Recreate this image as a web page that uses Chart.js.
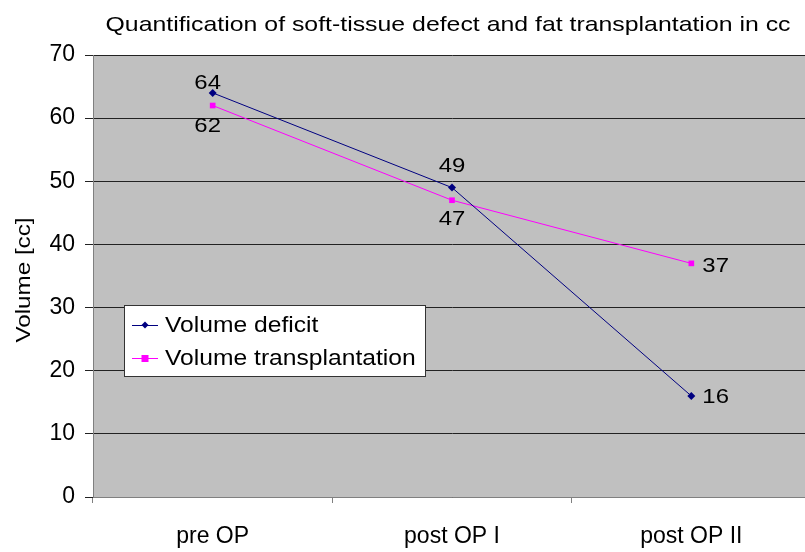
<!DOCTYPE html>
<html>
<head>
<meta charset="utf-8">
<script src="https://cdn.jsdelivr.net/npm/chart.js@4.4.0/dist/chart.umd.min.js"></script>
<style>
html,body{margin:0;padding:0;background:#fff;overflow:hidden;}
#wrap{width:815px;height:552px;}
</style>
</head>
<body>
<div id="wrap"><canvas id="c" width="815" height="552"></canvas></div>
<script>
const categories = ['pre OP', 'post OP I', 'post OP II'];
const volumeDeficit = [64, 49, 16];
const volumeTransplantation = [62, 47, 37];
const yTicks = [0, 10, 20, 30, 40, 50, 60, 70];
const chartTitle = 'Quantification of soft-tissue defect and fat transplantation in cc';
const yTitle = 'Volume [cc]';

const FONT = 'Arial, "Liberation Sans", sans-serif';

// label placement styles (per point): [dx, dy, align]
const labelStyle = [
  [[-5,-10,'center'],[0,-21,'center'],[11,1,'left']],
  [[-5,21,'center'],[0,19,'center'],[11,3,'left']]
];

// draw text with horizontal stretch sx
function drawText(ctx, text, x, y, font, sx, align, baseline) {
  ctx.save();
  ctx.font = font;
  ctx.textBaseline = baseline || 'middle';
  const w = ctx.measureText(text).width * sx;
  let left = x;
  if (align === 'center') left = x - w / 2;
  else if (align === 'right') left = x - w;
  ctx.translate(left, y);
  ctx.scale(sx, 1);
  ctx.textAlign = 'left';
  ctx.fillText(text, 0, 0);
  ctx.restore();
}

const bgPlugin = {
  id: 'bg',
  beforeDraw(chart) {
    const {ctx, chartArea: a} = chart;
    ctx.save();
    ctx.fillStyle = '#C0C0C0';
    ctx.fillRect(a.left, a.top, a.right - a.left, a.bottom - a.top);
    ctx.restore();
  }
};

const titlePlugin = {
  id: 'customTitle',
  afterDraw(chart) {
    const ctx = chart.ctx;
    ctx.save();
    ctx.fillStyle = '#000';
    ctx.font = '21px ' + FONT;
    const sx = 685 / ctx.measureText(chartTitle).width;
    drawText(ctx, chartTitle, 448, 31, '21px ' + FONT, sx, 'center', 'alphabetic');
    // y axis title
    ctx.font = '21px ' + FONT;
    const ysx = 125 / ctx.measureText(yTitle).width;
    ctx.translate(30, 280);
    ctx.rotate(-Math.PI / 2);
    drawText(ctx, yTitle, 0, 0, '21px ' + FONT, ysx, 'center', 'alphabetic');
    ctx.restore();
  }
};

const labelPlugin = {
  id: 'pointLabels',
  afterDatasetsDraw(chart) {
    const ctx = chart.ctx;
    ctx.save();
    ctx.fillStyle = '#000';
    chart.data.datasets.forEach((ds, di) => {
      const meta = chart.getDatasetMeta(di);
      meta.data.forEach((pt, i) => {
        const s = labelStyle[di][i];
        drawText(ctx, String(ds.data[i]), pt.x + s[0], pt.y + s[1], '21px ' + FONT, 1.14, s[2], 'middle');
      });
    });
    ctx.restore();
  }
};

const legendPlugin = {
  id: 'boxLegend',
  afterDraw(chart) {
    const ctx = chart.ctx;
    const x = 124.5, y = 305.5, w = 301, h = 71;
    ctx.save();
    ctx.fillStyle = '#fff';
    ctx.fillRect(x, y, w, h);
    ctx.strokeStyle = '#333';
    ctx.lineWidth = 1;
    ctx.strokeRect(x, y, w, h);
    chart.data.datasets.forEach((ds, di) => {
      const cy = 325 + di * 33;
      ctx.strokeStyle = ds.borderColor;
      ctx.lineWidth = 1;
      ctx.beginPath();
      ctx.moveTo(132, cy + 0.5);
      ctx.lineTo(158, cy + 0.5);
      ctx.stroke();
      ctx.fillStyle = ds.pointBackgroundColor;
      if (ds.pointStyle === 'rectRot') {
        ctx.beginPath();
        ctx.moveTo(145, cy - 3.5);
        ctx.lineTo(148.5, cy);
        ctx.lineTo(145, cy + 3.5);
        ctx.lineTo(141.5, cy);
        ctx.closePath();
        ctx.fill();
      } else {
        ctx.fillRect(141.5, cy - 3, 7, 7);
      }
      ctx.fillStyle = '#000';
      drawText(ctx, ds.label, 165, cy + 1, '22px ' + FONT, 1.12, 'left', 'middle');
    });
    ctx.restore();
  }
};

new Chart(document.getElementById('c'), {
  type: 'line',
  data: {
    labels: categories,
    datasets: [
      {
        label: 'Volume deficit',
        data: volumeDeficit,
        borderColor: '#000080',
        backgroundColor: '#000080',
        pointBackgroundColor: '#000080',
        pointBorderColor: '#000080',
        borderWidth: 1,
        pointStyle: 'rectRot',
        pointRadius: 4,
        pointBorderWidth: 0,
        tension: 0
      },
      {
        label: 'Volume transplantation',
        data: volumeTransplantation,
        borderColor: '#FF00FF',
        backgroundColor: '#FF00FF',
        pointBackgroundColor: '#FF00FF',
        pointBorderColor: '#FF00FF',
        borderWidth: 1,
        pointStyle: 'rect',
        pointRadius: 4,
        pointBorderWidth: 0,
        tension: 0
      }
    ]
  },
  options: {
    responsive: false,
    animation: false,
    devicePixelRatio: 1,
    layout: { padding: { top: 55, right: 0, left: 0, bottom: 0 } },
    plugins: {
      legend: { display: false },
      title: { display: false },
      tooltip: { enabled: false }
    },
    scales: {
      x: {
        type: 'category',
        offset: true,
        grid: {
          offset: true,
          drawOnChartArea: false,
          drawTicks: true,
          tickLength: 6,
          color: '#808080'
        },
        border: { color: '#808080', width: 1 },
        ticks: {
          color: '#000',
          font: { family: FONT, size: 23 },
          padding: 20,
          maxRotation: 0
        },
        afterFit(scale) { scale.height = 55; }
      },
      y: {
        min: 0,
        max: 70,
        afterBuildTicks(scale) { scale.ticks = yTicks.map(v => ({ value: v })); },
        grid: {
          color: '#222',
          lineWidth: 1,
          tickLength: 8,
          drawTicks: true
        },
        border: { color: '#808080', width: 1 },
        ticks: {
          color: '#000',
          font: { family: FONT, size: 23 },
          padding: 10
        },
        title: { display: false },
        afterFit(scale) { scale.width = 93; }
      }
    }
  },
  plugins: [bgPlugin, labelPlugin, legendPlugin, titlePlugin]
});
</script>
</body>
</html>
